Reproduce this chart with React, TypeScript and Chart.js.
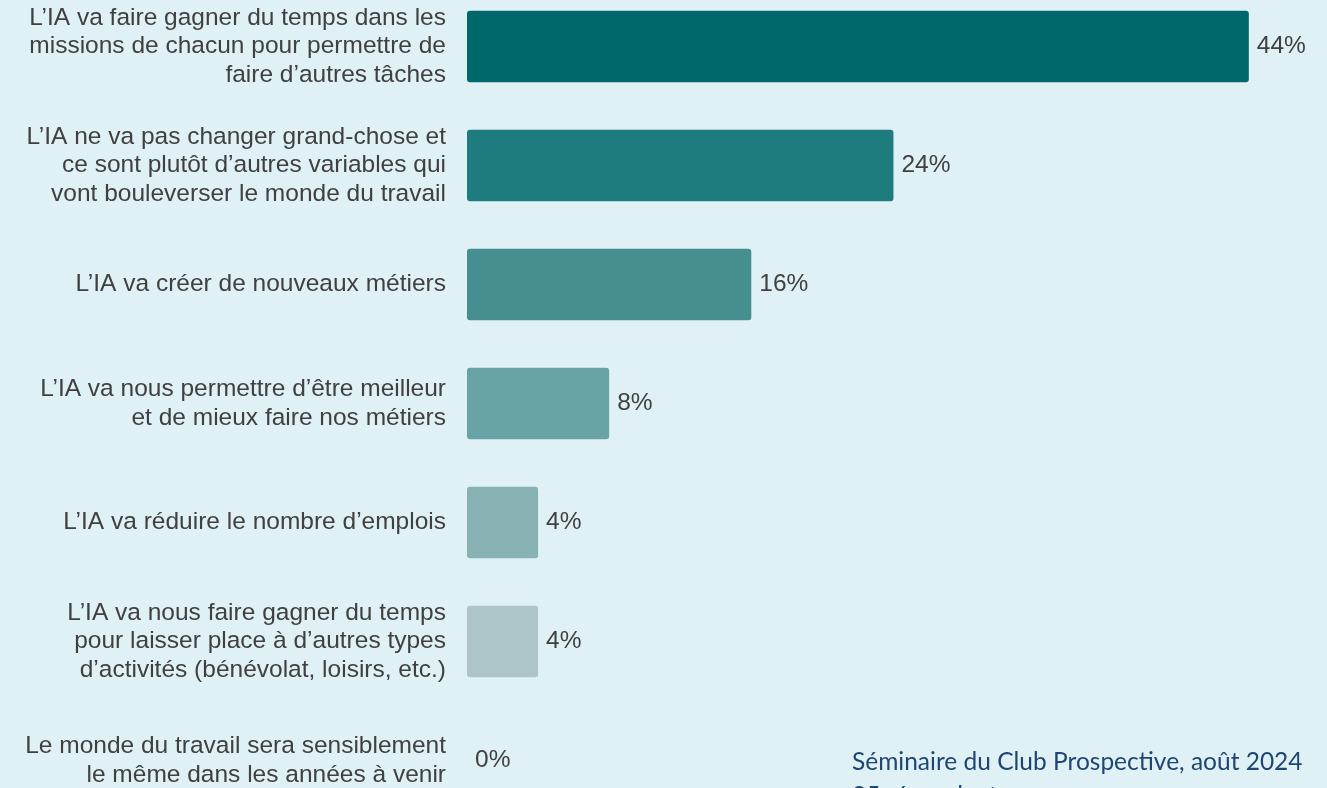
import React, { useEffect, useRef } from "react";
import { Chart, registerables } from "chart.js";

Chart.register(...registerables);

const categories: string[][] = [
  ["L’IA va faire gagner du temps dans les", "missions de chacun pour permettre de", "faire d’autres tâches"],
  ["L’IA ne va pas changer grand-chose et", "ce sont plutôt d’autres variables qui", "vont bouleverser le monde du travail"],
  ["L’IA va créer de nouveaux métiers"],
  ["L’IA va nous permettre d’être meilleur", "et de mieux faire nos métiers"],
  ["L’IA va réduire le nombre d’emplois"],
  ["L’IA va nous faire gagner du temps", "pour laisser place à d’autres types", "d’activités (bénévolat, loisirs, etc.)"],
  ["Le monde du travail sera sensiblement", "le même dans les années à venir"],
];

const values: number[] = [44, 24, 16, 8, 4, 4, 0];
const barColors: string[] = ["#00686b", "#1e7b7e", "#468e90", "#68a3a6", "#88b1b4", "#adc5c8", "#c8d8da"];
const sourceLines: string[] = ["Séminaire du Club Prospective, août 2024", "25 répondants"];

const BG = "#dff1f4";
const TEXT = "#404040";
const FONT_FAMILY = "'Liberation Sans', Arial, sans-serif";

const valueLabels = {
  id: "valueLabels",
  afterDatasetsDraw(chart: any) {
    const ctx = chart.ctx;
    const meta = chart.getDatasetMeta(0);
    ctx.save();
    ctx.font = "24.5px " + FONT_FAMILY;
    ctx.fillStyle = TEXT;
    ctx.textBaseline = "middle";
    ctx.textAlign = "left";
    meta.data.forEach((bar: any, i: number) => {
      const v = values[i];
      ctx.fillText(v + "%", bar.x + 8, bar.y);
    });
    ctx.restore();
  },
};

export default function App() {
  const ref = useRef<HTMLCanvasElement | null>(null);
  useEffect(() => {
    document.body.style.margin = "0";
    document.body.style.overflow = "hidden";
    const canvas = ref.current!;
    const chart = new Chart(canvas, {
      type: "bar",
      data: {
        labels: categories,
        datasets: [
          {
            data: values,
            backgroundColor: barColors,
            borderRadius: 3,
            borderSkipped: false,
            categoryPercentage: 1,
            barPercentage: 0.6,
          },
        ],
      },
      options: {
        indexAxis: "y",
        responsive: false,
        animation: false,
        layout: { padding: 0 },
        plugins: { legend: { display: false }, tooltip: { enabled: false } },
        scales: {
          x: {
            display: false,
            min: 0,
            max: 48.4,
          },
          y: {
            grid: { display: false, drawTicks: false },
            border: { display: false },
            afterFit: (scale: any) => {
              scale.width = 467;
              scale.paddingTop = 0;
              scale.paddingBottom = 0;
              scale.paddingLeft = 0;
              scale.paddingRight = 0;
            },
            ticks: {
              padding: 21,
              color: TEXT,
              font: { family: FONT_FAMILY, size: 24.5, lineHeight: 1.165 },
            },
          },
        },
      },
      plugins: [valueLabels],
    });
    return () => chart.destroy();
  }, []);

  return (
    <div
      style={{
        position: "fixed",
        left: 0,
        top: 0,
        width: 1327,
        height: 788,
        overflow: "hidden",
        background: BG,
      }}
    >
      <canvas
        ref={ref}
        width={1327}
        height={833}
        style={{ position: "absolute", left: 0, top: -13.5, width: 1327, height: 833 }}
      />
      <div
        style={{
          position: "absolute",
          left: 852,
          top: 744,
          fontFamily: "Lato, 'Open Sans', sans-serif",
          fontSize: 24.5,
          lineHeight: "34px",
          color: "#1f4672",
          whiteSpace: "nowrap",
        }}
      >
        {sourceLines.map((s, i) => (
          <div key={i}>{s}</div>
        ))}
      </div>
    </div>
  );
}
